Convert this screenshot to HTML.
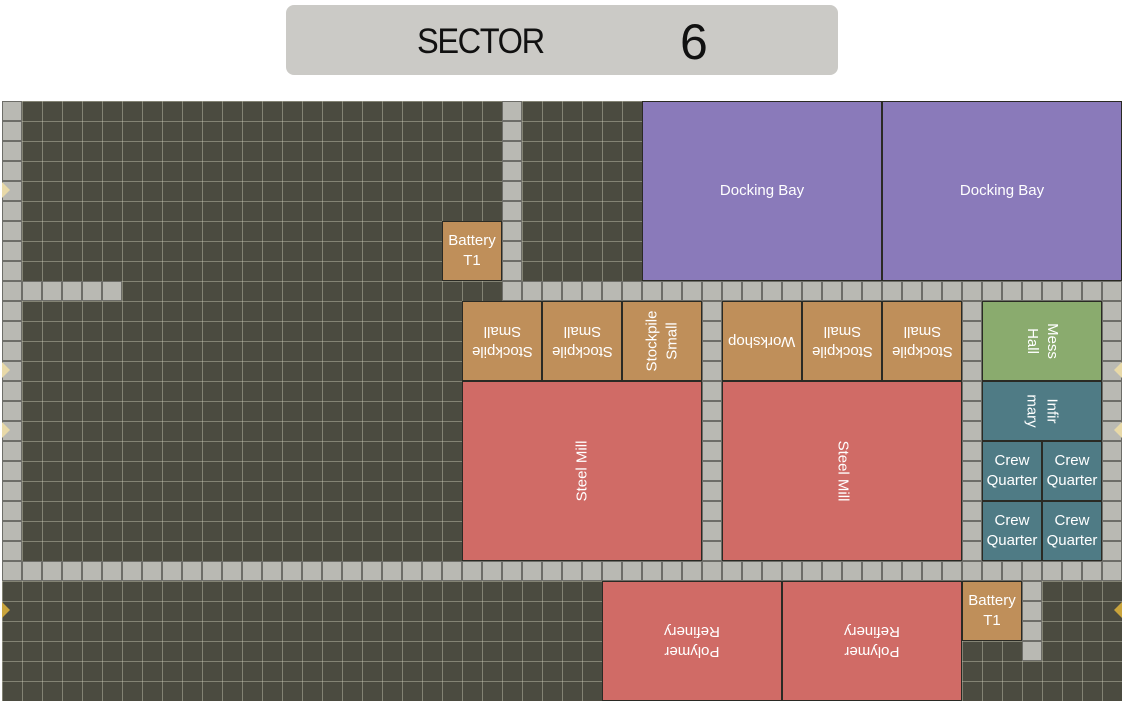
<!DOCTYPE html>
<html><head><meta charset="utf-8"><style>
body{margin:0;width:1125px;height:704px;background:#fff;position:relative;overflow:hidden;font-family:"Liberation Sans",sans-serif}
#hdr{position:absolute;left:286px;top:5px;width:552px;height:70px;background:#cbcac6;border-radius:8px}
#grid{position:absolute;left:2px;top:101px;width:1120px;height:600px;background-color:#4b4b40;
background-image:linear-gradient(to right,rgba(200,200,180,.45) 1px,transparent 1px),linear-gradient(to bottom,rgba(200,200,180,.45) 1px,transparent 1px);background-size:20px 20px}
.t{position:absolute;width:20px;height:20px;box-sizing:border-box;background:#b9b9b3;border:1px solid #6d6d68}
.b{position:absolute;box-sizing:border-box;border:1px solid #2a2a24;display:flex;align-items:center;justify-content:center;color:#fff;font-size:15px;text-align:center;line-height:20px}
.b span{display:block;white-space:nowrap}
.o{background:#bf8f5a}.r{background:#d06b66}.p{background:#8a7aba}.g{background:#8aab6e}.c{background:#4f7b85}
.r180 span{transform:rotate(180deg)}.rm span{transform:rotate(-90deg)}.rp span{transform:rotate(90deg)}
.d{position:absolute;width:0;height:0;border-top:8px solid transparent;border-bottom:8px solid transparent}
</style></head><body>
<div id="hdr">
<div style="position:absolute;left:131px;top:17px;font-size:35px;color:#111;letter-spacing:-1.5px;transform:scaleX(0.93);transform-origin:left">SECTOR</div>
<div style="position:absolute;left:394px;top:8px;font-size:50px;color:#111">6</div>
</div>
<div id="grid"></div>
<div id="tiles"></div>
<div class="b o" style="left:442px;top:221px;width:60px;height:60px"><span>Battery<br>T1</span></div>
<div class="b p" style="left:642px;top:101px;width:240px;height:180px"><span>Docking Bay</span></div>
<div class="b p" style="left:882px;top:101px;width:240px;height:180px"><span>Docking Bay</span></div>
<div class="b o r180" style="left:462px;top:301px;width:80px;height:80px"><span>Stockpile<br>Small</span></div>
<div class="b o r180" style="left:542px;top:301px;width:80px;height:80px"><span>Stockpile<br>Small</span></div>
<div class="b o rm" style="left:622px;top:301px;width:80px;height:80px"><span>Stockpile<br>Small</span></div>
<div class="b o r180" style="left:722px;top:301px;width:80px;height:80px"><span>Workshop</span></div>
<div class="b o r180" style="left:802px;top:301px;width:80px;height:80px"><span>Stockpile<br>Small</span></div>
<div class="b o r180" style="left:882px;top:301px;width:80px;height:80px"><span>Stockpile<br>Small</span></div>
<div class="b g rp" style="left:982px;top:301px;width:120px;height:80px"><span>Mess<br>Hall</span></div>
<div class="b c rp" style="left:982px;top:381px;width:120px;height:60px"><span>Infir<br>mary</span></div>
<div class="b c" style="left:982px;top:441px;width:60px;height:60px"><span>Crew<br>Quarter</span></div>
<div class="b c" style="left:1042px;top:441px;width:60px;height:60px"><span>Crew<br>Quarter</span></div>
<div class="b c" style="left:982px;top:501px;width:60px;height:60px"><span>Crew<br>Quarter</span></div>
<div class="b c" style="left:1042px;top:501px;width:60px;height:60px"><span>Crew<br>Quarter</span></div>
<div class="b r rm" style="left:462px;top:381px;width:240px;height:180px"><span>Steel Mill</span></div>
<div class="b r rp" style="left:722px;top:381px;width:240px;height:180px"><span>Steel Mill</span></div>
<div class="b r r180" style="left:602px;top:581px;width:180px;height:120px"><span>Polymer<br>Refinery</span></div>
<div class="b r r180" style="left:782px;top:581px;width:180px;height:120px"><span>Polymer<br>Refinery</span></div>
<div class="b o" style="left:962px;top:581px;width:60px;height:60px"><span>Battery<br>T1</span></div>
<div class="d" style="left:2px;top:182px;border-left:8px solid #e8d9a8"></div>
<div class="d" style="left:2px;top:362px;border-left:8px solid #e8d9a8"></div>
<div class="d" style="left:2px;top:422px;border-left:8px solid #e8d9a8"></div>
<div class="d" style="left:2px;top:602px;border-left:8px solid #c9a43c"></div>
<div class="d" style="left:1114px;top:362px;border-right:8px solid #e8d9a8"></div>
<div class="d" style="left:1114px;top:422px;border-right:8px solid #e8d9a8"></div>
<div class="d" style="left:1114px;top:602px;border-right:8px solid #c9a43c"></div>
<script>
var h='';function T(c,r){h+='<div class="t" style="left:'+(2+c*20)+'px;top:'+(101+r*20)+'px"></div>';}
var r,c;
for(r=0;r<=23;r++)T(0,r);
for(r=0;r<=8;r++)T(25,r);
for(c=1;c<=5;c++)T(c,9);
for(c=25;c<=55;c++)T(c,9);
for(r=10;r<=22;r++){T(35,r);T(48,r);T(55,r);}
for(c=1;c<=55;c++)T(c,23);
for(r=24;r<=27;r++)T(51,r);
document.getElementById('tiles').innerHTML=h;
</script>
</body></html>
